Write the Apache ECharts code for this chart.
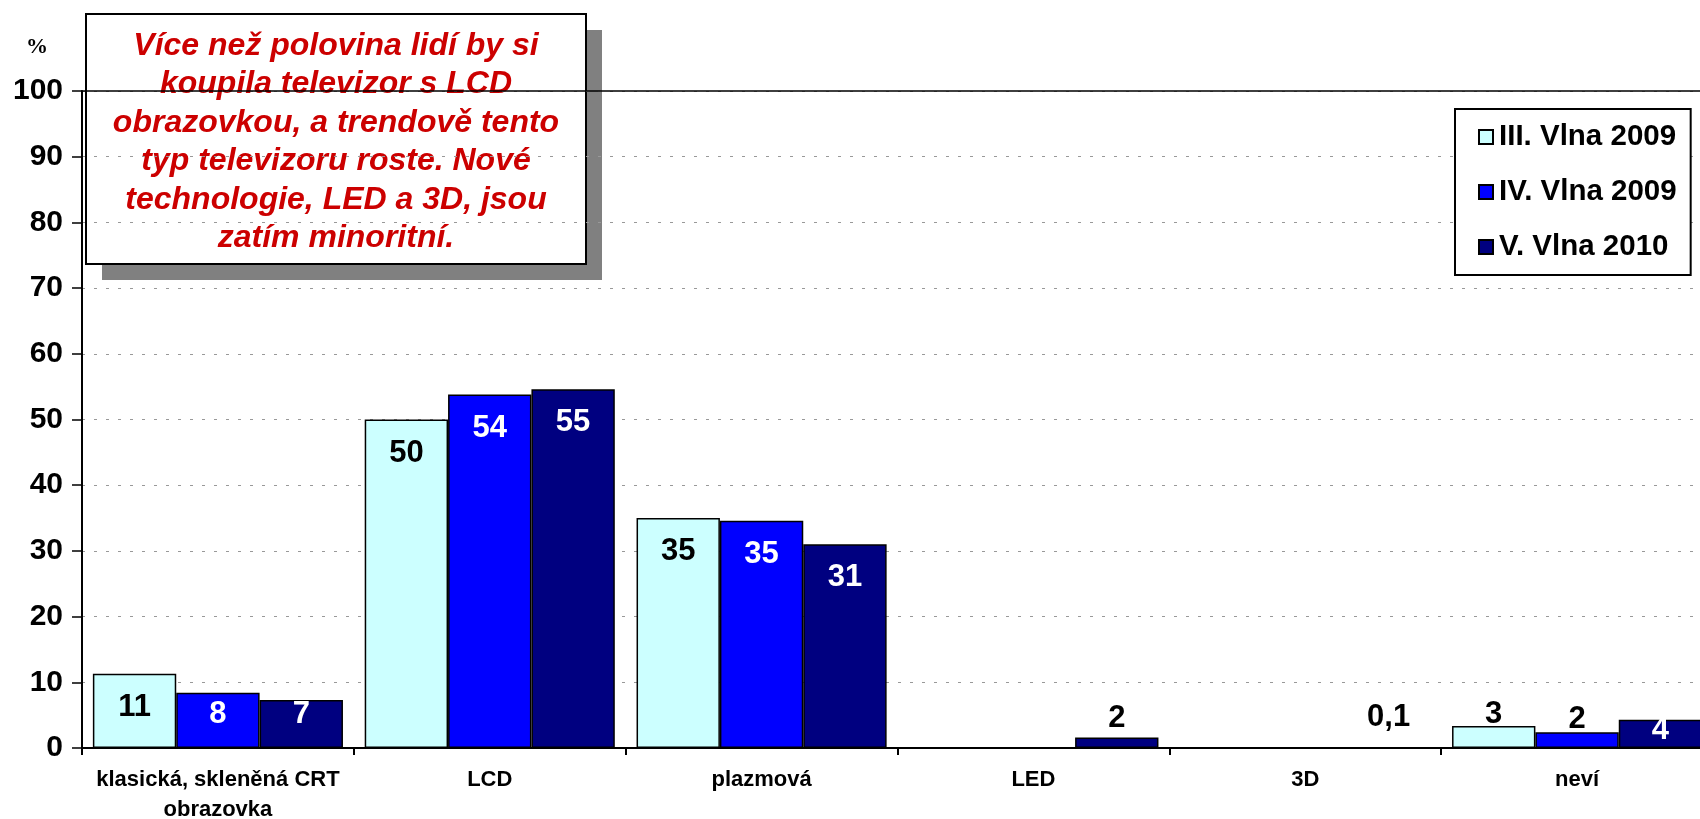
<!DOCTYPE html>
<html>
<head>
<meta charset="utf-8">
<script src="https://cdn.jsdelivr.net/npm/echarts@6/dist/echarts.min.js"></script>
<style>
html,body{margin:0;padding:0;background:#fff;}
#chart{width:1700px;height:819px;}
</style>
</head>
<body>
<div id="chart"></div>
<script>
// ---- data ----
const categories = ['klasická, skleněná CRT\nobrazovka', 'LCD', 'plazmová', 'LED', '3D', 'neví'];
const seriesNames = ['III. Vlna 2009', 'IV. Vlna 2009', 'V. Vlna 2010'];
const wave3 = [11.3, 50.0, 35.0, null, null, 3.35];
const wave4 = [8.4, 53.8, 34.6, null, null, 2.4];
const wave5 = [7.3, 54.6, 31.0, 1.6, 0.1, 4.3];
const yTicks = { min: 0, max: 100, step: 10 };
const unitLabel = '%';
const noteText = 'Více než polovina lidí by si\nkoupila televizor s LCD\nobrazovkou, a trendově tento\ntyp televizoru roste. Nové\ntechnologie, LED a 3D, jsou\nzatím minoritní.';

// ---- styles ----
const FONT = '"Liberation Sans", Arial, Helvetica, sans-serif';
const colors = ['#CCFFFF', '#0000FF', '#000080'];
const insideColors = ['#000', '#fff', '#fff'];
// label placement exceptions for small bars, keyed "series-category"
const smallLabelPlacement = {
  '0-5': { position: 'top', distance: -4, color: '#000' },
  '1-5': { position: 'top', distance: -3, color: '#000' },
  '2-5': { position: 'insideBottom', distance: 2, color: '#fff' },
  '2-3': { position: 'top', distance: 4, color: '#000' },
  '2-4': { position: 'top', distance: 14, color: '#000' }
};

function fmt(v) {
  if (v < 1) return String(v).replace('.', ',');
  return String(Math.round(v));
}

function buildData(values, s) {
  return values.map(function (v, i) {
    if (v === null) return '-';
    let lab;
    const key = s + '-' + i;
    if (smallLabelPlacement[key]) lab = smallLabelPlacement[key];
    else if (v >= 10) lab = { position: 'insideTop', distance: 18, color: insideColors[s] };
    else lab = { position: 'insideBottom', distance: 18, color: insideColors[s] };
    return { value: v, label: lab };
  });
}

const allValues = [wave3, wave4, wave5];
const series = allValues.map(function (vals, s) {
  return {
    name: seriesNames[s],
    type: 'bar',
    xAxisIndex: 0,
    barGap: '0%',
    barCategoryGap: '8%',
    itemStyle: { color: colors[s], borderColor: '#000', borderWidth: 1.5 },
    label: {
      show: true,
      fontFamily: FONT,
      fontSize: 31,
      fontWeight: 'bold',
      formatter: function (p) { return fmt(p.value); }
    },
    data: buildData(vals, s)
  };
});

const chart = echarts.init(document.getElementById('chart'), null, { renderer: 'canvas' });
chart.setOption({
  animation: false,
  backgroundColor: '#fff',
  grid: { left: 82, right: -13, top: 91, bottom: 71, outerBoundsMode: 'none', containLabel: false },
  legend: {
    orient: 'vertical',
    left: 1455,
    top: 109,
    padding: [13, 14, 13, 23],
    itemGap: 25,
    itemWidth: 14,
    itemHeight: 14,
    icon: 'rect',
    backgroundColor: '#fff',
    borderColor: '#000',
    borderWidth: 2,
    borderRadius: 0,
    textStyle: { fontFamily: FONT, fontSize: 29.5, fontWeight: 'bold', color: '#000', lineHeight: 30, padding: [0, 0, 0, 1] },
    data: seriesNames
  },
  xAxis: [{
    type: 'category',
    data: categories,
    axisLine: { lineStyle: { color: '#000', width: 2 } },
    axisTick: { show: true, length: 7, lineStyle: { color: '#000', width: 2 } },
    axisLabel: {
      interval: 0,
      fontFamily: FONT,
      fontSize: 22,
      fontWeight: 'bold',
      color: '#000',
      lineHeight: 30,
      margin: 17
    },
    splitLine: { show: false }
  }, {
    type: 'category',
    data: categories,
    position: 'top',
    axisLine: { show: true, lineStyle: { color: '#000', width: 1.5 } },
    axisTick: { show: false },
    axisLabel: { show: false },
    splitLine: { show: false }
  }],
  yAxis: {
    type: 'value',
    min: yTicks.min,
    max: yTicks.max,
    interval: yTicks.step,
    axisLine: { show: true, lineStyle: { color: '#000', width: 2 } },
    axisTick: { show: true, length: 10, lineStyle: { color: '#000', width: 1.5 } },
    axisLabel: { fontFamily: FONT, fontSize: 30, fontWeight: 'bold', color: '#000', margin: 19 },
    splitLine: { show: true, lineStyle: { color: '#999', width: 1, type: [3, 9] } }
  },
  series: series,
  graphic: [
    {
      type: 'text', left: 26, top: 36, z: 10,
      style: { text: unitLabel, font: 'bold 22px "Liberation Serif", "Times New Roman", serif', fill: '#000' }
    },
    {
      type: 'group', left: 85, top: 13, z: 20,
      children: [
        { type: 'rect', shape: { x: 16, y: 16, width: 500, height: 250 }, style: { fill: '#808080' } },
        { type: 'rect', shape: { x: 0, y: 0, width: 500, height: 250 }, style: { fill: '#fff', stroke: '#000', lineWidth: 2 } },
        {
          type: 'text', x: 250, y: 128,
          style: {
            text: noteText,
            font: 'italic bold 32px ' + FONT,
            fill: '#CC0000',
            align: 'center',
            verticalAlign: 'middle',
            lineHeight: 38.5
          }
        }
      ]
    }
  ]
});
</script>
</body>
</html>
